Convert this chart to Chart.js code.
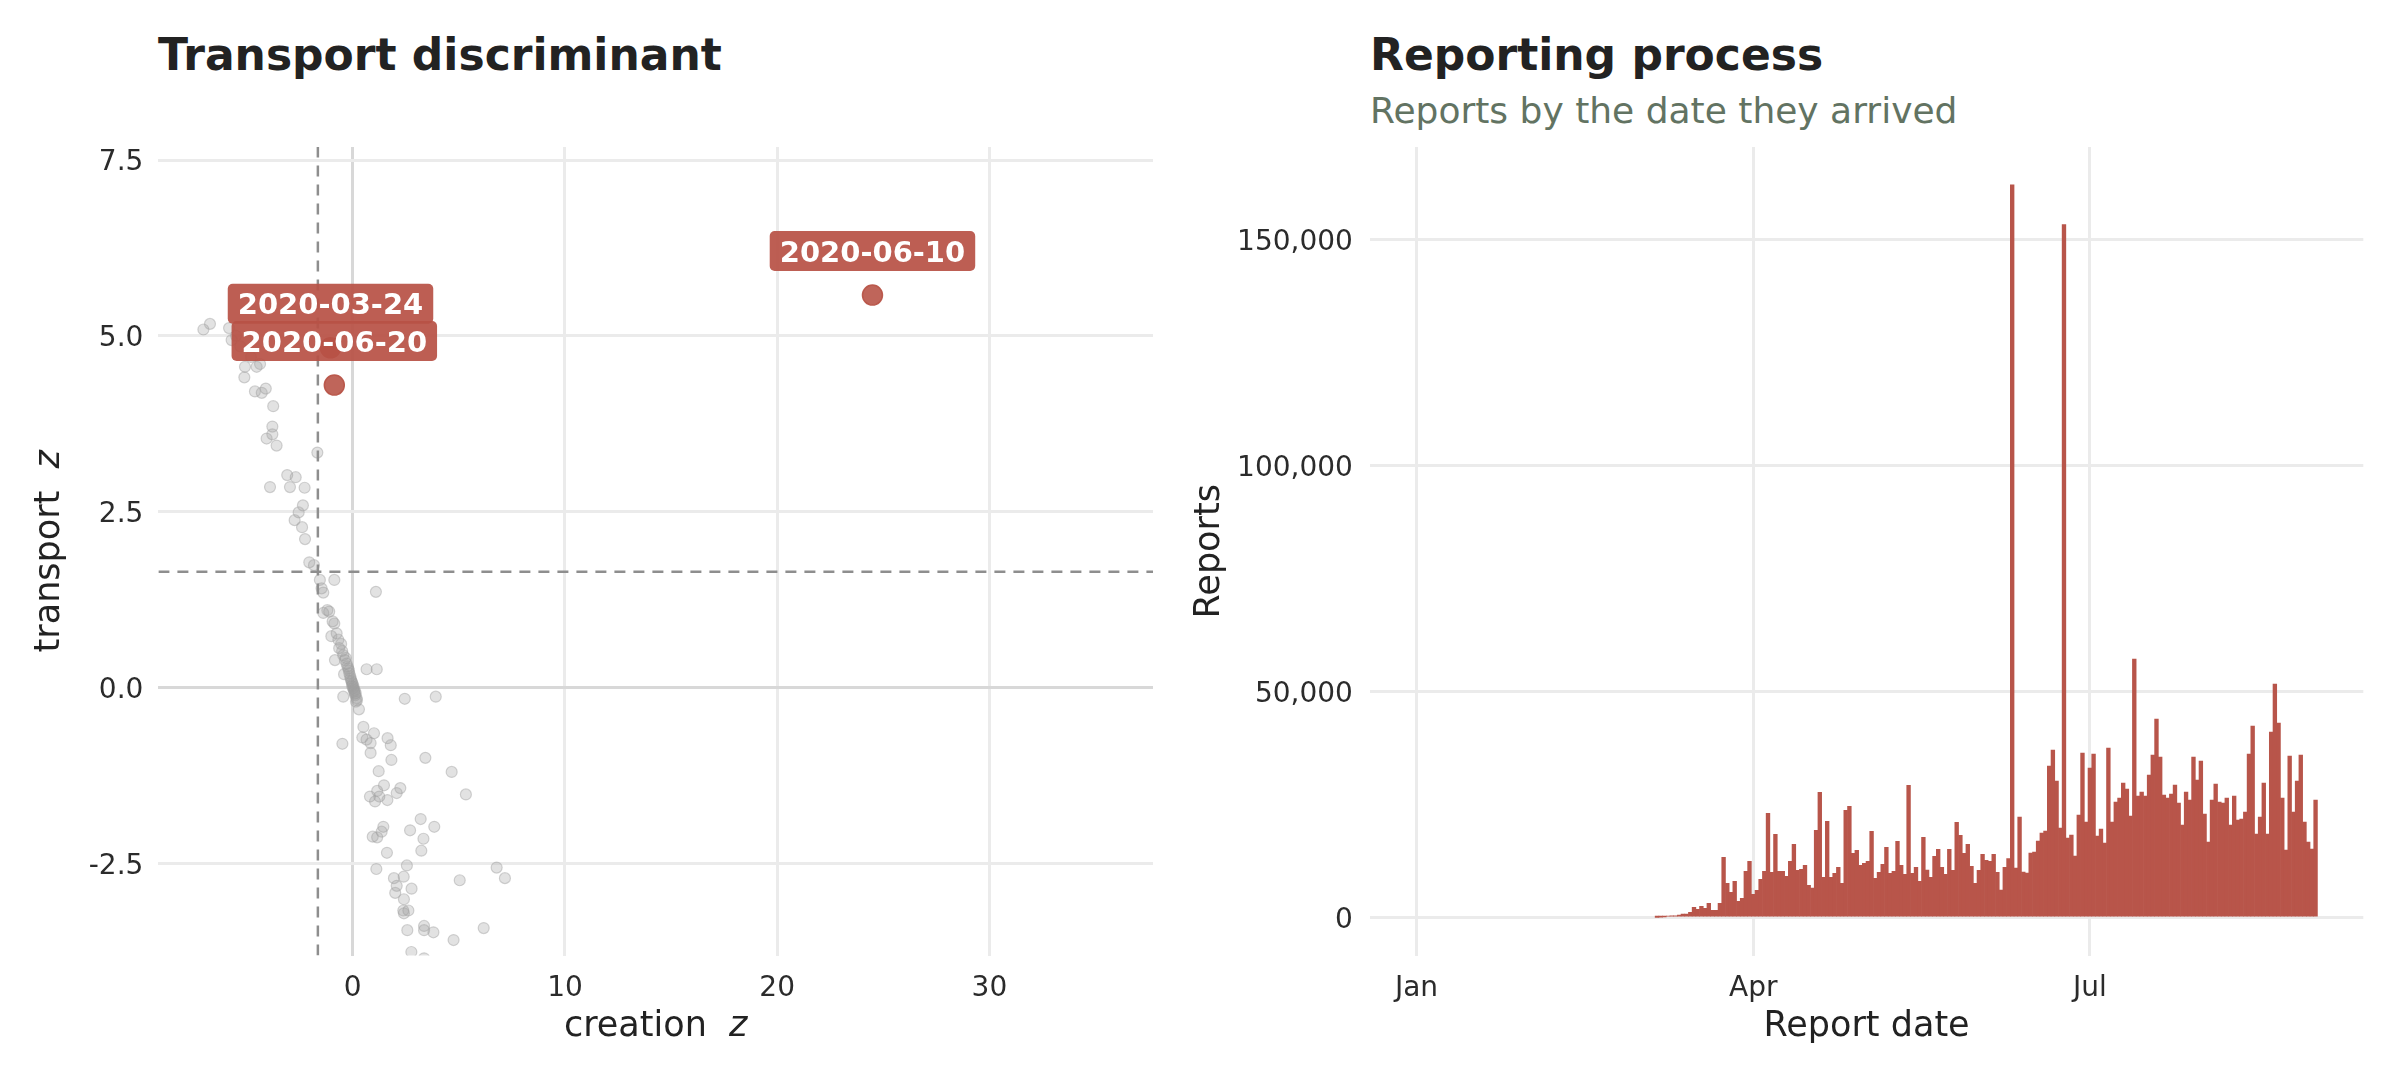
<!DOCTYPE html>
<html>
<head>
<meta charset="utf-8">
<title>Transport discriminant / Reporting process</title>
<script src="https://cdn.jsdelivr.net/npm/chart.js@4.4.1/dist/chart.umd.min.js"></script>
<style>
  html, body { margin: 0; padding: 0; background: #fff; }
  body { width: 2400px; height: 1080px; position: relative; overflow: hidden; font-family: "DejaVu Sans", sans-serif; }
  canvas { position: absolute; top: 0; }
  #discriminant { left: 0; }
  #reporting { left: 1180px; }
  .title { position: absolute; margin: 0; font-weight: bold; font-size: 44px; line-height: 44px; color: #222; white-space: nowrap; }
  .subtitle { position: absolute; margin: 0; font-size: 36px; line-height: 36px; color: #627362; white-space: nowrap; font-weight: normal; }
</style>
</head>
<body>
<h1 class="title" style="left:158px; top:33px">Transport discriminant</h1>
<h1 class="title" style="left:1370px; top:33px">Reporting process</h1>
<p class="subtitle" style="left:1370px; top:93px">Reports by the date they arrived</p>
<canvas id="discriminant" width="1180" height="1080"></canvas>
<canvas id="reporting" width="1220" height="1080"></canvas>

<script>
// ---- left panel: one point per report date (creation z, transport z) ----
const creationZ = [
  -7.04, -6.73, -5.83, -5.71, -5.08, -4.53, -4.37, -5.11, -4.61, -4.29,
  -4.10, -3.75, -3.79, -3.79, -4.06, -3.59, -1.67, -3.09, -2.69, -3.90,
  -2.96, -2.27, -2.35, -2.55, -2.74, -2.39, -2.25, -2.05, -1.83, -5.30,
  -4.80, -5.50, -1.55, -0.87, -1.47, -1.39, 1.09, -1.20, -1.11, -1.39,
  -0.95, -0.87, -1.01, -0.76, -0.68, -0.64, -0.45, -0.37, -0.84, -0.41,
  0.65, 1.13, -0.29, -0.21, -0.16, -0.10, -0.05, 0.00, 0.02, 0.07,
  0.12, 0.18, 0.15, -0.25, -0.18, -0.12, -0.07, -0.02, 0.04, 0.09,
  0.14, 0.20, -0.33, -0.55, -0.50, 0.10, -0.03, 0.05, -0.45, 0.29,
  2.45, 3.91, 0.50, 0.45, 0.65, 1.00, 0.84, 1.64, 1.79, -0.49,
  0.84, 1.82, 3.42, 1.22, 4.66, 1.47, 1.15, 0.81, 1.05, 1.25,
  1.63, 2.07, 2.24, 5.33, 3.20, 3.84, 2.70, 3.33, 3.23, 1.44,
  1.36, 0.94, 1.15, 1.61, 1.11, 2.55, 6.78, 7.17, 5.04, 1.94,
  2.40, 2.07, 2.00, 2.77, 2.41, 2.38, 2.62, 2.41, 2.57, 3.36,
  3.36, 3.80, 6.17, 4.75, 2.76, 3.36
];
const transportZ = [
  5.09, 5.17, 5.11, 4.94, 4.56, 4.56, 4.60, 4.41, 4.21, 4.19,
  4.25, 4.00, 3.71, 3.60, 3.54, 3.44, 3.34, 3.02, 2.99, 2.85,
  2.85, 2.84, 2.59, 2.49, 2.38, 2.28, 2.11, 1.78, 1.74, 4.85,
  4.70, 5.00, 1.53, 1.53, 1.41, 1.35, 1.36, 1.10, 1.08, 1.06,
  0.94, 0.91, 0.73, 0.77, 0.68, 0.56, 0.46, 0.39, 0.39, 0.19,
  0.26, 0.26, 0.34, 0.27, 0.20, 0.13, 0.08, 0.04, -0.01, -0.06,
  -0.11, -0.15, -0.20, 0.30, 0.24, 0.16, 0.10, 0.06, 0.01, -0.04,
  -0.08, -0.18, 0.42, 0.62, 0.52, -0.09, 0.02, -0.03, -0.13, -0.31,
  -0.16, -0.13, -0.56, -0.71, -0.74, -0.65, -0.79, -0.72, -0.82, -0.80,
  -0.93, -1.03, -1.00, -1.19, -1.20, -1.39, -1.47, -1.55, -1.62, -1.55,
  -1.60, -1.50, -1.43, -1.52, -1.87, -1.98, -2.03, -2.15, -2.32, -1.98,
  -2.05, -2.12, -2.13, -2.35, -2.58, -2.53, -2.56, -2.71, -2.74, -2.71,
  -2.69, -2.82, -2.92, -2.86, -3.01, -3.17, -3.17, -3.21, -3.45, -3.39,
  -3.45, -3.48, -3.42, -3.59, -3.76, -3.85
];

// flagged report dates
const flaggedDates = ['2020-06-10', '2020-03-24', '2020-06-20'];
const flaggedCreationZ = [24.49, -1.05, -0.87];
const flaggedTransportZ = [5.58, 4.83, 4.30];

const zThreshold = 1.645;
const creationLimits = [-9.16, 37.71];
const transportLimits = [-3.81, 7.685];
const creationTicks = [0, 10, 20, 30];
const transportTicks = [-2.5, 0, 2.5, 5, 7.5];

// ---- right panel: reports per arrival day ----
const reportStart = '2020-03-06';
const reportCounts = [
  80, 120, 150, 370, 380, 400, 590, 800, 820, 1180,
  2290, 1840, 2500, 2070, 3170, 1620, 1620, 3170, 13350, 7600,
  5600, 8040, 3610, 4280, 10250, 12460, 5160, 6050, 8480, 10250,
  23080, 10030, 18440, 10250, 10250, 9150, 12460, 16230, 10470, 10690,
  11580, 7150, 6560, 19320, 27730, 8920, 21310, 8920, 9810, 11140,
  7600, 23750, 24630, 14230, 14900, 11580, 12020, 12460, 19100, 8700,
  10030, 11800, 15560, 9810, 10250, 16890, 11580, 9590, 29280, 9810,
  11140, 8040, 17770, 10550, 8920, 13570, 15120, 11140, 9590, 15120,
  10470, 21090, 18220, 14230, 16230, 11360, 7600, 10470, 14010, 12690,
  12460, 14010, 10030, 6120, 11140, 13050, 162150, 10990, 22270, 10100,
  9880, 14310, 14530, 16960, 18730, 19180, 33560, 37100, 30240, 19840,
  153330, 17630, 18290, 13640, 22720, 36430, 21170, 33110, 36210, 18070,
  19620, 16520, 37540, 21170, 25590, 26480, 29800, 28470, 22490, 57230,
  26920, 27800, 26920, 31570, 35990, 43950, 35550, 27140, 26480, 27360,
  29350, 25370, 20500, 27800, 26030, 35550, 30460, 34660, 22940, 16740,
  26030, 29570, 25590, 25370, 26480, 20500, 26920, 21610, 21830, 23380,
  36210, 42410, 18510, 22270, 29800, 18510, 41080, 51700, 43070, 26480,
  14970, 35770, 23380, 30240, 35990, 21170, 16740, 15190, 26030
];
const dateTicks = ['2020-01-01', '2020-04-01', '2020-07-01'];
const dateTickLabels = ['Jan', 'Apr', 'Jul'];
const dateLimits = [-12.6, 255.9];
const countTicks = [0, 50000, 100000, 150000];
const countLimits = [-8370, 170500];

// days since 1 Jan 2020
function dayNumber(iso) {
  const [y, m, d] = iso.split('-').map(Number);
  return (Date.UTC(y, m - 1, d) - Date.UTC(2020, 0, 1)) / 864e5;
}

const FONT = '"DejaVu Sans", sans-serif';
const TEXT = '#2b2b2b';
const GRID = '#ebebeb';
const RED = '#b8554a';

Chart.defaults.font.family = FONT;
Chart.defaults.color = TEXT;

function gridOptions(zeroColor) {
  return {
    color: ctx => (zeroColor && ctx.tick && ctx.tick.value === 0) ? zeroColor : GRID,
    lineWidth: 3,
    drawTicks: false,
    offset: false
  };
}

// label boxes above the flagged points
const dateLabels = {
  id: 'dateLabels',
  afterDatasetsDraw(chart) {
    const { ctx, scales: { x, y } } = chart;
    ctx.save();
    ctx.font = 'bold 29px ' + FONT;
    ctx.textAlign = 'center';
    ctx.textBaseline = 'middle';
    flaggedDates.forEach((label, i) => {
      const px = x.getPixelForValue(flaggedCreationZ[i]);
      const py = y.getPixelForValue(flaggedTransportZ[i]) - 44;
      const w = ctx.measureText(label).width + 20;
      const h = 40;
      ctx.fillStyle = 'rgba(184, 82, 70, 0.93)';
      ctx.beginPath();
      ctx.roundRect(px - w / 2, py - h / 2, w, h, 5);
      ctx.fill();
      ctx.fillStyle = '#ffffff';
      ctx.fillText(label, px, py + 3);
    });
    ctx.restore();
  }
};

// axis titles with an italic z
const zAxisTitles = {
  id: 'zAxisTitles',
  afterDraw(chart) {
    const { ctx, chartArea } = chart;
    const draw = (word, x, y, rotation) => {
      ctx.save();
      ctx.translate(x, y);
      ctx.rotate(rotation);
      ctx.fillStyle = '#222';
      ctx.textBaseline = 'alphabetic';
      ctx.textAlign = 'left';
      ctx.font = '35px ' + FONT;
      const head = word + '\u00a0\u00a0';
      const w1 = ctx.measureText(head).width;
      ctx.font = 'italic 35px ' + FONT;
      const w2 = ctx.measureText('z').width;
      const start = -(w1 + w2) / 2;
      ctx.fillText('z', start + w1, 0);
      ctx.font = '35px ' + FONT;
      ctx.fillText(head, start, 0);
      ctx.restore();
    };
    draw('creation', (chartArea.left + chartArea.right) / 2, 1036, 0);
    draw('transport', 59, (chartArea.top + chartArea.bottom) / 2, -Math.PI / 2);
  }
};

new Chart(document.getElementById('discriminant'), {
  type: 'scatter',
  data: {
    datasets: [
      {
        label: 'flagged',
        data: flaggedCreationZ.map((v, i) => ({ x: v, y: flaggedTransportZ[i] })),
        pointRadius: 10,
        borderWidth: 1.5,
        backgroundColor: 'rgba(184, 84, 72, 0.9)',
        borderColor: 'rgba(184, 84, 72, 0.95)'
      },
      {
        type: 'line',
        label: 'creation threshold',
        data: [{ x: -zThreshold, y: transportLimits[0] }, { x: -zThreshold, y: transportLimits[1] }],
        showLine: true,
        pointRadius: 0,
        borderWidth: 2.5,
        borderColor: '#8e8e8e',
        borderDash: [11, 8]
      },
      {
        type: 'line',
        label: 'transport threshold',
        data: [{ x: creationLimits[0], y: zThreshold }, { x: creationLimits[1], y: zThreshold }],
        showLine: true,
        pointRadius: 0,
        borderWidth: 2.5,
        borderColor: '#8e8e8e',
        borderDash: [11, 8]
      },
      {
        label: 'report dates',
        data: creationZ.map((v, i) => ({ x: v, y: transportZ[i] })),
        pointRadius: 5.5,
        borderWidth: 1.2,
        backgroundColor: 'rgba(160, 160, 160, 0.3)',
        borderColor: 'rgba(160, 160, 160, 0.45)'
      }
    ]
  },
  options: {
    responsive: false,
    animation: false,
    devicePixelRatio: 1,
    events: [],
    layout: { padding: { top: 147, right: 27, left: 0, bottom: 0 } },
    plugins: { legend: { display: false }, tooltip: { enabled: false } },
    scales: {
      x: {
        type: 'linear',
        min: creationLimits[0],
        max: creationLimits[1],
        afterBuildTicks: s => { s.ticks = creationTicks.map(v => ({ value: v })); },
        afterFit: s => { s.height = 124.5; },
        grid: gridOptions('#d8d8d8'),
        border: { display: false },
        ticks: { font: { size: 28 }, color: TEXT, padding: 16, maxRotation: 0, autoSkip: false, callback: v => String(v) }
      },
      y: {
        type: 'linear',
        min: transportLimits[0],
        max: transportLimits[1],
        afterBuildTicks: s => { s.ticks = transportTicks.map(v => ({ value: v })); },
        afterFit: s => { s.width = 158.4; },
        grid: gridOptions('#d8d8d8'),
        border: { display: false },
        ticks: { font: { size: 28 }, color: TEXT, padding: 15, labelOffset: 3, autoSkip: false, callback: v => v.toFixed(1) }
      }
    }
  },
  plugins: [dateLabels, zAxisTitles]
});

const startDay = dayNumber(reportStart);
const tickDays = dateTicks.map(dayNumber);

new Chart(document.getElementById('reporting'), {
  type: 'bar',
  data: {
    datasets: [{
      label: 'Reports',
      data: reportCounts.map((v, i) => ({ x: startDay + i, y: v })),
      backgroundColor: RED,
      borderWidth: 0,
      barPercentage: 1,
      categoryPercentage: 1
    }]
  },
  options: {
    responsive: false,
    animation: false,
    devicePixelRatio: 1,
    events: [],
    layout: { padding: { top: 147, right: 36.7, left: 0, bottom: 0 } },
    plugins: { legend: { display: false }, tooltip: { enabled: false } },
    scales: {
      x: {
        type: 'linear',
        offset: false,
        min: dateLimits[0],
        max: dateLimits[1],
        afterBuildTicks: s => { s.ticks = tickDays.map(v => ({ value: v })); },
        afterFit: s => { s.height = 124.5; },
        grid: gridOptions(null),
        border: { display: false },
        ticks: { font: { size: 28 }, color: TEXT, padding: 16, maxRotation: 0, autoSkip: false, callback: (v, i) => dateTickLabels[i] },
        title: { display: true, text: 'Report date', color: '#222', font: { size: 35 }, padding: { top: 0, bottom: 32 } }
      },
      y: {
        type: 'linear',
        min: countLimits[0],
        max: countLimits[1],
        afterBuildTicks: s => { s.ticks = countTicks.map(v => ({ value: v })); },
        afterFit: s => { s.width = 189.9; },
        grid: gridOptions(null),
        border: { display: false },
        ticks: { font: { size: 28 }, color: TEXT, padding: 17, labelOffset: 3, autoSkip: false, callback: v => v.toLocaleString('en-US') },
        title: { display: true, text: 'Reports', color: '#222', font: { size: 35 }, padding: { top: 9, bottom: 0 } }
      }
    }
  }
});
</script>
</body>
</html>
